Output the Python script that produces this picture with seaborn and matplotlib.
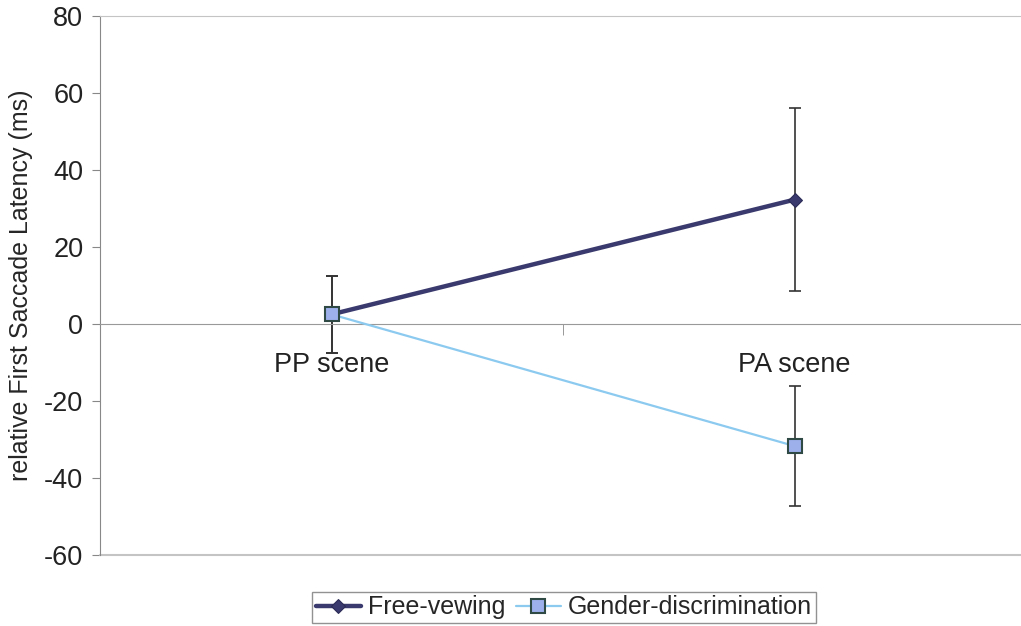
import pandas as pd
import seaborn as sns
import matplotlib.pyplot as plt

# data
scenes = ['PP scene', 'PA scene']
free_viewing = [2.5, 32.3]
free_err = [10.0, 23.8]
gender_disc = [2.5, -31.7]
gender_err = [10.0, 15.6]
tasks = ['Free-vewing', 'Gender-discrimination']

df = pd.DataFrame({
    'scene': scenes * 2,
    'value': free_viewing + gender_disc,
    'task': [tasks[0]] * 2 + [tasks[1]] * 2,
})

sns.set_style('white')
plt.rcParams['font.family'] = ['Liberation Sans', 'DejaVu Sans']
plt.rcParams['axes.unicode_minus'] = False

fig = plt.figure(figsize=(10.21, 6.26), dpi=100)
ax = fig.add_axes([100 / 1021, 71 / 626, 926 / 1021, 539 / 626])

# error bars first so the markers sit on top
ax.errorbar([0, 1], free_viewing, yerr=free_err, fmt='none', ecolor='#333333',
            elinewidth=1.2, capsize=4, capthick=1.2, zorder=1)
ax.errorbar([0, 1], gender_disc, yerr=gender_err, fmt='none', ecolor='#333333',
            elinewidth=1.2, capsize=4, capthick=1.2, zorder=1)

palette = {tasks[0]: '#3b3a6e', tasks[1]: '#8ccaf0'}
sns.lineplot(data=df[df.task == tasks[0]], x='scene', y='value', color=palette[tasks[0]],
             marker='D', markersize=7, markeredgecolor='#2a2a55', linewidth=3.2,
             ax=ax, label=tasks[0], zorder=3)
sns.lineplot(data=df[df.task == tasks[1]], x='scene', y='value', color=palette[tasks[1]],
             marker='s', markersize=10, markerfacecolor='#9db0ec', markeredgecolor='#2f4a44',
             markeredgewidth=1.5, linewidth=1.6, ax=ax, label=tasks[1], zorder=4)

ax.set_xlim(-0.5, 1.5)
ax.set_ylim(-60, 80)
ax.set_yticks(range(-60, 81, 20))
ax.set_xlabel('')
ax.set_ylabel('relative First Saccade Latency (ms)', fontsize=18, labelpad=8)

ax.spines['bottom'].set_position(('data', 0))
ax.spines['bottom'].set_color('#999999')
ax.spines['left'].set_color('#888888')
ax.spines['top'].set_color('#c4c4c4')
ax.spines['right'].set_visible(False)
ax.axhline(-60, color='#c4c4c4', linewidth=1.5, clip_on=False)

ax.tick_params(axis='y', direction='out', length=6, color='#888888', labelsize=19.5,
               left=True, pad=6, labelcolor='#222222')
ax.tick_params(axis='x', which='major', length=0, labelsize=19.5, pad=20, labelcolor='#222222')
ax.set_xticks([0.5], minor=True)
ax.tick_params(axis='x', which='minor', direction='out', length=8, color='#888888', bottom=True)

ax.legend_.remove()
handles, labels = ax.get_legend_handles_labels()
fig.legend(handles[:2], labels[:2], ncol=2, loc='lower center',
           bbox_to_anchor=(564 / 1021, 3 / 626), fontsize=18, frameon=True,
           fancybox=False, edgecolor='#777777', handlelength=1.8, columnspacing=0.4,
           handletextpad=0.3, borderpad=0.15, borderaxespad=0)

fig.savefig('out.png', dpi=100)
